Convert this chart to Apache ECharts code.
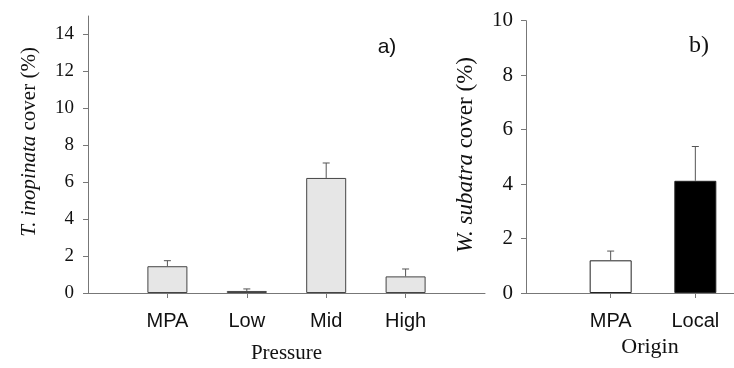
<!DOCTYPE html>
<html>
<head>
<meta charset="utf-8">
<script src="https://cdn.jsdelivr.net/npm/echarts@6/dist/echarts.min.js"></script>
<style>
html,body{margin:0;padding:0;background:#fff;}
#c{width:734px;height:368px;}
</style>
</head>
<body>
<div id="c"></div>
<script>
// Panel a
var catsA = ['', 'MPA', 'Low', 'Mid', 'High', ''];
var meanA = ['-', 1.45, 0.11, 6.23, 0.9, '-'];
var seA   = [null, 0.30, 0.11, 0.81, 0.40, null];
var ticksA = [0, 2, 4, 6, 8, 10, 12, 14];
// Panel b
var catsB = ['', 'MPA', 'Local', ''];
var meanB = ['-', 1.20, 4.12, '-'];
var seB   = [null, 0.34, 1.26, null];
var ticksB = [0, 2, 4, 6, 8, 10];

var serif = 'Liberation Serif';
var sans = 'Liberation Sans';
var axisCol = '#777';

function errData(means, ses) {
  var out = [];
  for (var i = 0; i < means.length; i++) {
    if (ses[i] != null) out.push([i, means[i], means[i] + ses[i]]);
  }
  return out;
}
function errRender(params, api) {
  var x = api.value(0);
  var lo = api.coord([x, api.value(1)]);
  var hi = api.coord([x, api.value(2)]);
  var cw = 3.5;
  return {
    type: 'group',
    children: [
      {type: 'line', shape: {x1: lo[0], y1: lo[1], x2: hi[0], y2: hi[1]}, style: {stroke: '#555', lineWidth: 1}},
      {type: 'line', shape: {x1: hi[0] - cw, y1: hi[1], x2: hi[0] + cw, y2: hi[1]}, style: {stroke: '#555', lineWidth: 1}}
    ]
  };
}

var chart = echarts.init(document.getElementById('c'), null, {renderer: 'canvas'});
chart.setOption({
  animation: false,
  backgroundColor: '#fff',
  grid: [
    {left: 88, top: 16, width: 397, height: 277, outerBoundsMode: 'none', containLabel: false},
    {left: 526, top: 20.7, width: 254, height: 272.3, outerBoundsMode: 'none', containLabel: false}
  ],
  xAxis: [
    {
      type: 'category', gridIndex: 0, data: catsA, boundaryGap: false,
      axisLine: {lineStyle: {color: axisCol, width: 1}},
      axisTick: {length: 5, lineStyle: {color: axisCol}, interval: function (i) { return i > 0 && i < catsA.length - 1; }},
      axisLabel: {margin: 18, fontFamily: sans, fontSize: 20, color: '#111', interval: 0},
      name: 'Pressure', nameLocation: 'middle', nameGap: 50,
      nameTextStyle: {fontFamily: serif, fontSize: 21, color: '#111'}
    },
    {
      type: 'category', gridIndex: 1, data: catsB, boundaryGap: false,
      axisLine: {lineStyle: {color: axisCol, width: 1}},
      axisTick: {length: 5, lineStyle: {color: axisCol}, interval: function (i) { return i > 0 && i < catsB.length - 1; }},
      axisLabel: {margin: 18, fontFamily: sans, fontSize: 20, color: '#111', interval: 0},
      name: 'Origin', nameLocation: 'middle', nameGap: 37,
      nameTextStyle: {fontFamily: serif, fontSize: 22, color: '#111', padding: [0, 6, 0, 0]}
    }
  ],
  yAxis: [
    {
      type: 'value', gridIndex: 0, min: 0, max: 15,
      splitLine: {show: false},
      axisLine: {show: true, lineStyle: {color: axisCol, width: 1}},
      axisTick: {show: true, length: 5, lineStyle: {color: axisCol}, customValues: ticksA},
      axisLabel: {margin: 14, fontFamily: serif, fontSize: 19, color: '#111', customValues: ticksA}
    },
    {
      type: 'value', gridIndex: 1, min: 0, max: 10, interval: 2,
      splitLine: {show: false},
      axisLine: {show: true, lineStyle: {color: axisCol, width: 1}},
      axisTick: {show: true, length: 5, lineStyle: {color: axisCol}, customValues: ticksB},
      axisLabel: {margin: 13, fontFamily: serif, fontSize: 21, color: '#111', customValues: ticksB}
    }
  ],
  series: [
    {
      type: 'bar', xAxisIndex: 0, yAxisIndex: 0, data: meanA, barWidth: 40,
      itemStyle: {color: '#e6e6e6', borderColor: '#444', borderWidth: 1}
    },
    {
      type: 'custom', xAxisIndex: 0, yAxisIndex: 0, data: errData(meanA, seA),
      renderItem: errRender, z: 5
    },
    {
      type: 'bar', xAxisIndex: 1, yAxisIndex: 1, barWidth: 42,
      data: meanB.map(function (v, i) {
        if (v === '-') return '-';
        return {value: v, itemStyle: {color: i === 1 ? '#ffffff' : '#000000', borderColor: '#222', borderWidth: 1}};
      })
    },
    {
      type: 'custom', xAxisIndex: 1, yAxisIndex: 1, data: errData(meanB, seB),
      renderItem: errRender, z: 5
    }
  ],
  graphic: [
    {
      type: 'text', x: 29, y: 142, rotation: Math.PI / 2,
      style: {
        text: '{i|T. inopinata} cover (%)', align: 'center', verticalAlign: 'middle',
        fontFamily: serif, fontSize: 21, fill: '#111',
        rich: {i: {fontStyle: 'italic', fontFamily: serif, fontSize: 21, fill: '#111'}}
      }
    },
    {
      type: 'text', x: 466, y: 155, rotation: Math.PI / 2,
      style: {
        text: '{i|W. subatra} cover (%)', align: 'center', verticalAlign: 'middle',
        fontFamily: serif, fontSize: 23, fill: '#111',
        rich: {i: {fontStyle: 'italic', fontFamily: serif, fontSize: 23, fill: '#111'}}
      }
    },
    {
      type: 'text', x: 387, y: 47,
      style: {text: 'a)', align: 'center', verticalAlign: 'middle', fontFamily: sans, fontSize: 21, fill: '#111'}
    },
    {
      type: 'text', x: 699, y: 46,
      style: {text: 'b)', align: 'center', verticalAlign: 'middle', fontFamily: serif, fontSize: 24, fill: '#111'}
    }
  ]
});
</script>
</body>
</html>
